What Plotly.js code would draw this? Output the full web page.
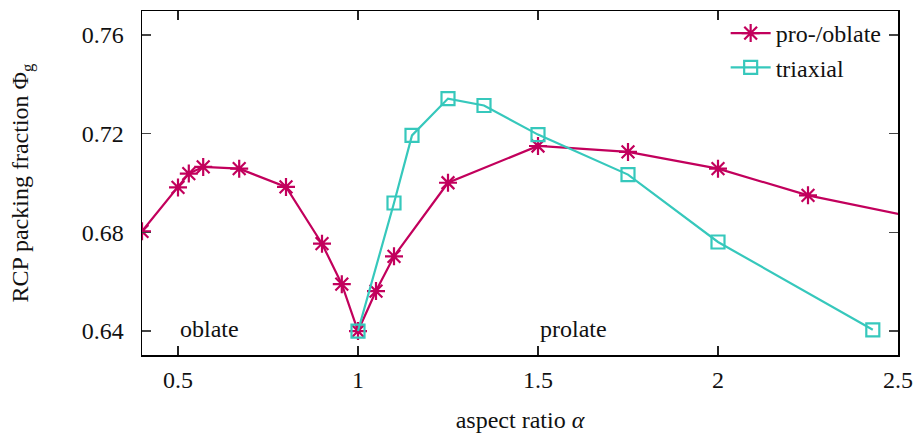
<!DOCTYPE html>
<html>
<head>
<meta charset="utf-8">
<script src="https://cdn.plot.ly/plotly-3.0.1.min.js"></script>
<style>html,body{margin:0;padding:0;background:#fff}#chart{width:914px;height:439px}</style>
</head>
<body>
<div id="chart"></div>
<script>
// pro-/oblate series
const proOblateAlpha = [0.4, 0.5, 0.53, 0.57, 0.67, 0.8, 0.9, 0.955, 1.0, 1.05, 1.1, 1.25, 1.5, 1.75, 2.0, 2.25, 3.0];
const proOblatePhi   = [0.6804, 0.6982, 0.7038, 0.7065, 0.7058, 0.6984, 0.6754, 0.659, 0.640, 0.6562, 0.6703, 0.7001, 0.715, 0.7126, 0.7058, 0.695, 0.6726];
// triaxial series
const triaxialAlpha = [1.0, 1.1, 1.15, 1.25, 1.35, 1.5, 1.75, 2.0, 2.43];
const triaxialPhi   = [0.640, 0.6919, 0.7193, 0.7342, 0.7314, 0.7196, 0.7034, 0.6761, 0.6405];
// axis ticks
const xTicks = [0.5, 1, 1.5, 2, 2.5];
const xTickLabels = ['0.5', '1', '1.5', '2', '2.5'];
const yTicks = [0.64, 0.68, 0.72, 0.76];
const yTickLabels = ['0.64', '0.68', '0.72', '0.76'];
// region labels
const regionLabels = ['oblate', 'prolate'];
const regionLabelX = [0.5, 1.5];
const regionLabelY = [0.641, 0.641];

const magenta = '#c2005c';
const cyan = '#36c8bc';
const font = 'Liberation Serif';
const fs = 24;

const traces = [
  {
    x: proOblateAlpha, y: proOblatePhi, name: 'pro-/oblate', type: 'scatter', mode: 'lines+markers',
    line: {color: magenta, width: 2.2},
    marker: {symbol: 'asterisk-open', size: 15, color: magenta, line: {color: magenta, width: 2.2}}
  },
  {
    x: triaxialAlpha, y: triaxialPhi, name: 'triaxial', type: 'scatter', mode: 'lines+markers',
    line: {color: cyan, width: 2.2},
    marker: {symbol: 'square-open', size: 13, color: cyan, line: {color: cyan, width: 2.2}}
  }
];

const layout = {
  width: 914, height: 439,
  margin: {l: 142, r: 16, t: 11, b: 84},
  paper_bgcolor: '#fff', plot_bgcolor: '#fff',
  font: {family: font, size: fs, color: '#111'},
  showlegend: true,
  legend: {x: 0.985, y: 1.0, xanchor: 'right', yanchor: 'top', bgcolor: 'rgba(0,0,0,0)', font: {family: font, size: fs, color: '#111'}, itemwidth: 40, tracegroupgap: 0},
  xaxis: {
    range: [0.4, 2.5], tickvals: xTicks, ticktext: xTickLabels,
    ticks: 'inside', ticklen: 9, tickwidth: 1.2, tickcolor: '#222',
    showline: true, linecolor: '#000', linewidth: 1.5, mirror: 'ticks',
    showgrid: false, zeroline: false, ticklabelstandoff: 3,
    title: {text: 'aspect ratio <i>α</i>', font: {family: font, size: fs}, standoff: 19}
  },
  yaxis: {
    range: [0.6303, 0.7697], tickvals: yTicks, ticktext: yTickLabels,
    ticks: 'inside', ticklen: 9, tickwidth: 1.2, tickcolor: '#444',
    showline: true, linecolor: '#000', linewidth: 1.5, mirror: 'ticks',
    showgrid: false, zeroline: false, ticklabelstandoff: 12,
    title: {text: 'RCP packing fraction Φ<sub>g</sub>', font: {family: font, size: fs}, standoff: 46}
  },
  annotations: regionLabels.map((t, i) => ({
    x: regionLabelX[i], y: regionLabelY[i], xref: 'x', yref: 'y', text: t, showarrow: false,
    xanchor: 'left', yanchor: 'middle', font: {family: font, size: fs, color: '#111'}
  }))
};

Plotly.newPlot('chart', traces, layout, {displayModeBar: false, staticPlot: true});
</script>
</body>
</html>
